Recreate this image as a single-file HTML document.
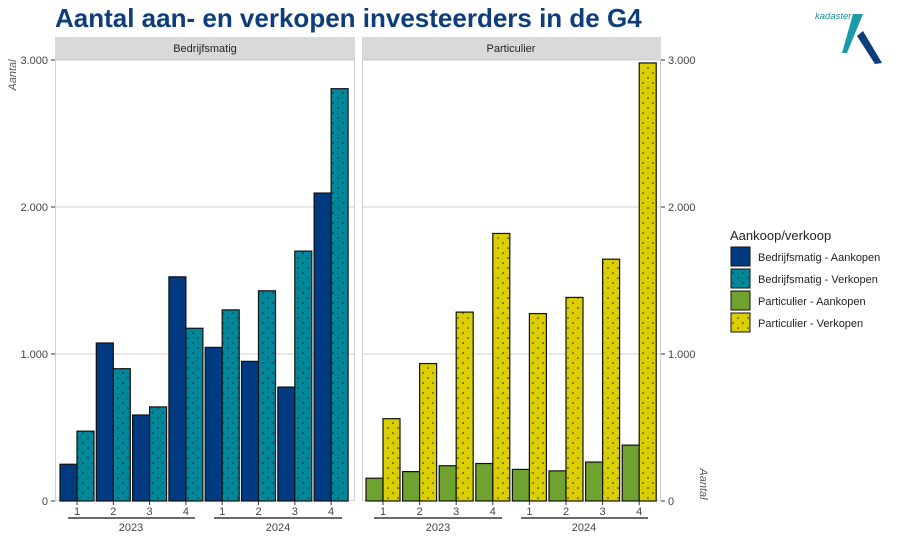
<!DOCTYPE html>
<html><head><meta charset="utf-8"><style>
body{margin:0;background:#fff;}
svg{display:block;font-family:"Liberation Sans",sans-serif;}
</style></head><body>
<svg width="900" height="540" viewBox="0 0 900 540">
<defs>
<pattern id="dots" width="10" height="10" patternUnits="userSpaceOnUse">
<circle cx="3" cy="3" r="0.8" fill="#222"/><circle cx="8" cy="8" r="0.8" fill="#222"/>
</pattern>
</defs>
<text x="55" y="27" font-size="26" font-weight="bold" fill="#0d3d7a">Aantal aan- en verkopen investeerders in de G4</text>
<!-- logo -->
<text x="815" y="19" font-size="9.5" font-style="italic" fill="#1a8fa0">kadaster</text>
<polygon points="853,14 863,14 847,53 842,53" fill="#1a9aaa"/>
<polygon points="857,36 863,31 882,63 875,64" fill="#0d3d7a"/>

<!-- strips -->
<rect x="55" y="37" width="300" height="22" fill="#d9d9d9"/>
<text x="205" y="52" font-size="11" text-anchor="middle" fill="#222">Bedrijfsmatig</text>
<rect x="362" y="37" width="299" height="22" fill="#d9d9d9"/>
<text x="511" y="52" font-size="11" text-anchor="middle" fill="#222">Particulier</text>

<!-- panels -->
<g stroke="#d0d0d0" stroke-width="1">
<rect x="55.5" y="59.5" width="299" height="441" fill="#fff"/>
<rect x="362.5" y="59.5" width="298" height="441" fill="#fff"/>
<line x1="55" y1="354" x2="355" y2="354"/><line x1="55" y1="207" x2="355" y2="207"/><line x1="55" y1="60" x2="355" y2="60"/>
<line x1="362" y1="354" x2="661" y2="354"/><line x1="362" y1="207" x2="661" y2="207"/><line x1="362" y1="60" x2="661" y2="60"/>
</g>

<g id="bars" stroke="#111" stroke-width="1.2"></g>

<!-- y axis left -->
<g font-size="11" fill="#444" text-anchor="end">
<text x="48" y="505">0</text><text x="48" y="358">1.000</text><text x="48" y="211">2.000</text><text x="48" y="64">3.000</text>
</g>
<g stroke="#333"><line x1="51" y1="501" x2="55" y2="501"/><line x1="51" y1="354" x2="55" y2="354"/><line x1="51" y1="207" x2="55" y2="207"/><line x1="51" y1="60" x2="55" y2="60"/>
<line x1="661" y1="501" x2="665" y2="501"/><line x1="661" y1="354" x2="665" y2="354"/><line x1="661" y1="207" x2="665" y2="207"/><line x1="661" y1="60" x2="665" y2="60"/></g>
<g font-size="11" fill="#444">
<text x="668" y="505">0</text><text x="668" y="358">1.000</text><text x="668" y="211">2.000</text><text x="668" y="64">3.000</text>
</g>
<text transform="translate(16,75) rotate(-90)" font-size="11" font-style="italic" fill="#555" text-anchor="middle">Aantal</text>
<text transform="translate(700,484) rotate(90)" font-size="11" font-style="italic" fill="#555" text-anchor="middle">Aantal</text>

<g id="xax" font-size="11" fill="#444" text-anchor="middle"></g>
<g stroke="#111" stroke-width="1.2">
<line x1="68" y1="518" x2="195" y2="518"/><line x1="214" y1="518" x2="342" y2="518"/>
<line x1="374" y1="518" x2="502" y2="518"/><line x1="521" y1="518" x2="648" y2="518"/>
</g>
<g font-size="11" fill="#444" text-anchor="middle">
<text x="131" y="531">2023</text><text x="278" y="531">2024</text><text x="438" y="531">2023</text><text x="584" y="531">2024</text>
</g>

<!-- legend -->
<text x="730" y="240" font-size="13" fill="#222">Aankoop/verkoop</text>
<g stroke="#111" stroke-width="1">
<rect x="731" y="247" width="19" height="19" fill="#003a80"/>
<rect x="731" y="269" width="19" height="19" fill="#00879a"/><rect x="731" y="269" width="19" height="19" fill="url(#dots)" stroke="none"/>
<rect x="731" y="291" width="19" height="19" fill="#6fa22e"/>
<rect x="731" y="313" width="19" height="19" fill="#dccf00"/><rect x="731" y="313" width="19" height="19" fill="url(#dots)" stroke="none"/>
</g>
<g font-size="11" fill="#222">
<text x="758" y="261">Bedrijfsmatig - Aankopen</text>
<text x="758" y="283">Bedrijfsmatig - Verkopen</text>
<text x="758" y="305">Particulier - Aankopen</text>
<text x="758" y="327">Particulier - Verkopen</text>
</g>
</svg>
<script>
var ns="http://www.w3.org/2000/svg",g=document.getElementById("bars"),x=document.getElementById("xax");
function y(v){return 501-v*0.147;}
function bar(x0,v,c,dot){var r=document.createElementNS(ns,"rect");r.setAttribute("x",x0);r.setAttribute("y",y(v));r.setAttribute("width",17);r.setAttribute("height",501-y(v));r.setAttribute("fill",c);g.appendChild(r);
if(dot){var d=document.createElementNS(ns,"rect");d.setAttribute("x",x0);d.setAttribute("y",y(v));d.setAttribute("width",17);d.setAttribute("height",501-y(v));d.setAttribute("fill","url(#dots)");d.setAttribute("stroke","none");g.appendChild(d);}}
var L1=[250,1075,585,1525,1045,950,775,2095],L2=[475,900,640,1175,1300,1430,1700,2805];
var R1=[155,200,240,255,215,205,265,380],R2=[560,935,1285,1820,1275,1385,1645,2980];
for(var i=0;i<8;i++){
 var a=60+i*36.3;bar(a,L1[i],"#003a80",0);bar(a+17,L2[i],"#00879a",1);
 var b=366+i*36.6;bar(b,R1[i],"#6fa22e",0);bar(b+17,R2[i],"#dccf00",1);
 [a+17,b+17].forEach(function(c){var t=document.createElementNS(ns,"text");t.setAttribute("x",c);t.setAttribute("y",515);t.textContent=(i%4)+1;x.appendChild(t);
 var l=document.createElementNS(ns,"line");l.setAttribute("x1",c);l.setAttribute("x2",c);l.setAttribute("y1",501);l.setAttribute("y2",505);l.setAttribute("stroke","#333");x.appendChild(l);});
}
</script>
</body></html>
